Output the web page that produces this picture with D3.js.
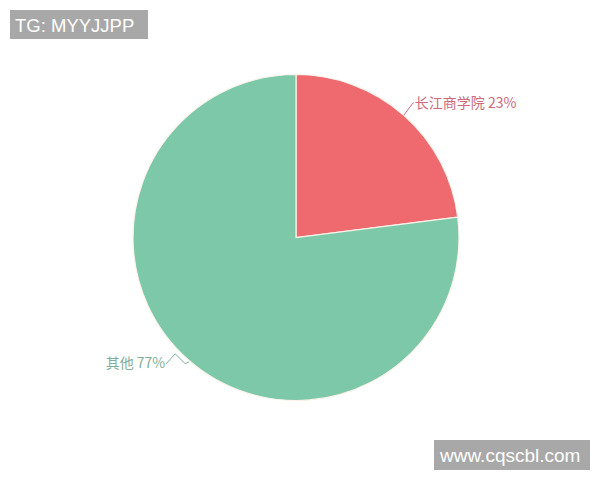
<!DOCTYPE html>
<html lang="en">
<head>
    <meta charset="UTF-8">
    <title>Pie</title>
    <script src="https://cdn.jsdelivr.net/npm/d3@7"></script>
    <style>
        body { margin: 0; background: #fff; }
        #chart { width: 600px; height: 480px; }
        .mark { font-family: "Liberation Sans", Arial, sans-serif; fill: #fff; }
        .lbl { font-family: "Noto Sans CJK SC", sans-serif; font-size: 14px; }
    </style>
</head>
<body>
<div id="chart"></div>
<script>
    const categories = ["长江商学院", "其他"]
    const values = [23, 77]
    const colors = ["#ef6a6f", "#7dc8a9"]
    const labelColors = ["#cc6a7c", "#7fae9d"]

    const width = 600
    const height = 480
    const cx = 296, cy = 237.5, radius = 163

    const svg = d3.select("#chart")
        .append("svg")
        .attr("viewBox", `0 0 ${width} ${height}`)
        .attr("width", width)
        .attr("height", height)

    const data = categories.map((c, i) => ({name: c, value: values[i], i: i}))

    const pie = d3.pie().value(d => d.value).sort(null)
    const arcs = pie(data)
    const arc = d3.arc().innerRadius(0).outerRadius(radius)
    const edge = d3.arc().innerRadius(radius).outerRadius(radius)

    const g = svg.append("g").attr("transform", `translate(${cx},${cy})`)

    g.selectAll(".slice")
        .data(arcs)
        .enter()
        .append("path")
        .attr("d", arc)
        .attr("fill", d => colors[d.data.i])
        .attr("stroke", "#fbf3ea")
        .attr("stroke-width", 1.2)

    // label lines
    const linePts = d => {
        const p = edge.centroid(d)
        const right = p[0] > 0
        if (right) {
            return [p, [p[0] + 9, p[1] - 12], [p[0] + 10, p[1] - 12.5]]
        }
        return [[p[0] + 1, p[1] + 2], [p[0] - 3, p[1] + 4], [p[0] - 13, p[1] - 6], [p[0] - 22, p[1] + 4]]
    }

    g.selectAll(".ll")
        .data(arcs)
        .enter()
        .append("polyline")
        .attr("points", d => linePts(d).map(q => q.join(",")).join(" "))
        .attr("fill", "none")
        .attr("stroke", d => labelColors[d.data.i])
        .attr("stroke-width", 1)

    g.selectAll(".lbl")
        .data(arcs)
        .enter()
        .append("text")
        .attr("class", "lbl")
        .attr("x", d => {
            const pts = linePts(d)
            const last = pts[pts.length - 1]
            return d.data.i === 0 ? last[0] + 1 : last[0] - 1
        })
        .attr("y", d => {
            const pts = linePts(d)
            const last = pts[pts.length - 1]
            return d.data.i === 0 ? last[1] : last[1] - 1
        })
        .attr("dy", "0.35em")
        .attr("text-anchor", d => d.data.i === 0 ? "start" : "end")
        .attr("fill", d => labelColors[d.data.i])
        .text(d => `${d.data.name} ${d.data.value}%`)

    // watermarks
    svg.append("rect").attr("x", 10).attr("y", 10).attr("width", 138).attr("height", 29).attr("fill", "#a8a8a8")
    svg.append("text").attr("class", "mark").attr("x", 15).attr("y", 31.5).attr("font-size", 18.5).text("TG: MYYJJPP")
    svg.append("rect").attr("x", 434).attr("y", 440).attr("width", 156).attr("height", 30).attr("fill", "#a8a8a8")
    svg.append("text").attr("class", "mark").attr("x", 440).attr("y", 461.5).attr("font-size", 19).text("www.cqscbl.com")
</script>
</body>
</html>
